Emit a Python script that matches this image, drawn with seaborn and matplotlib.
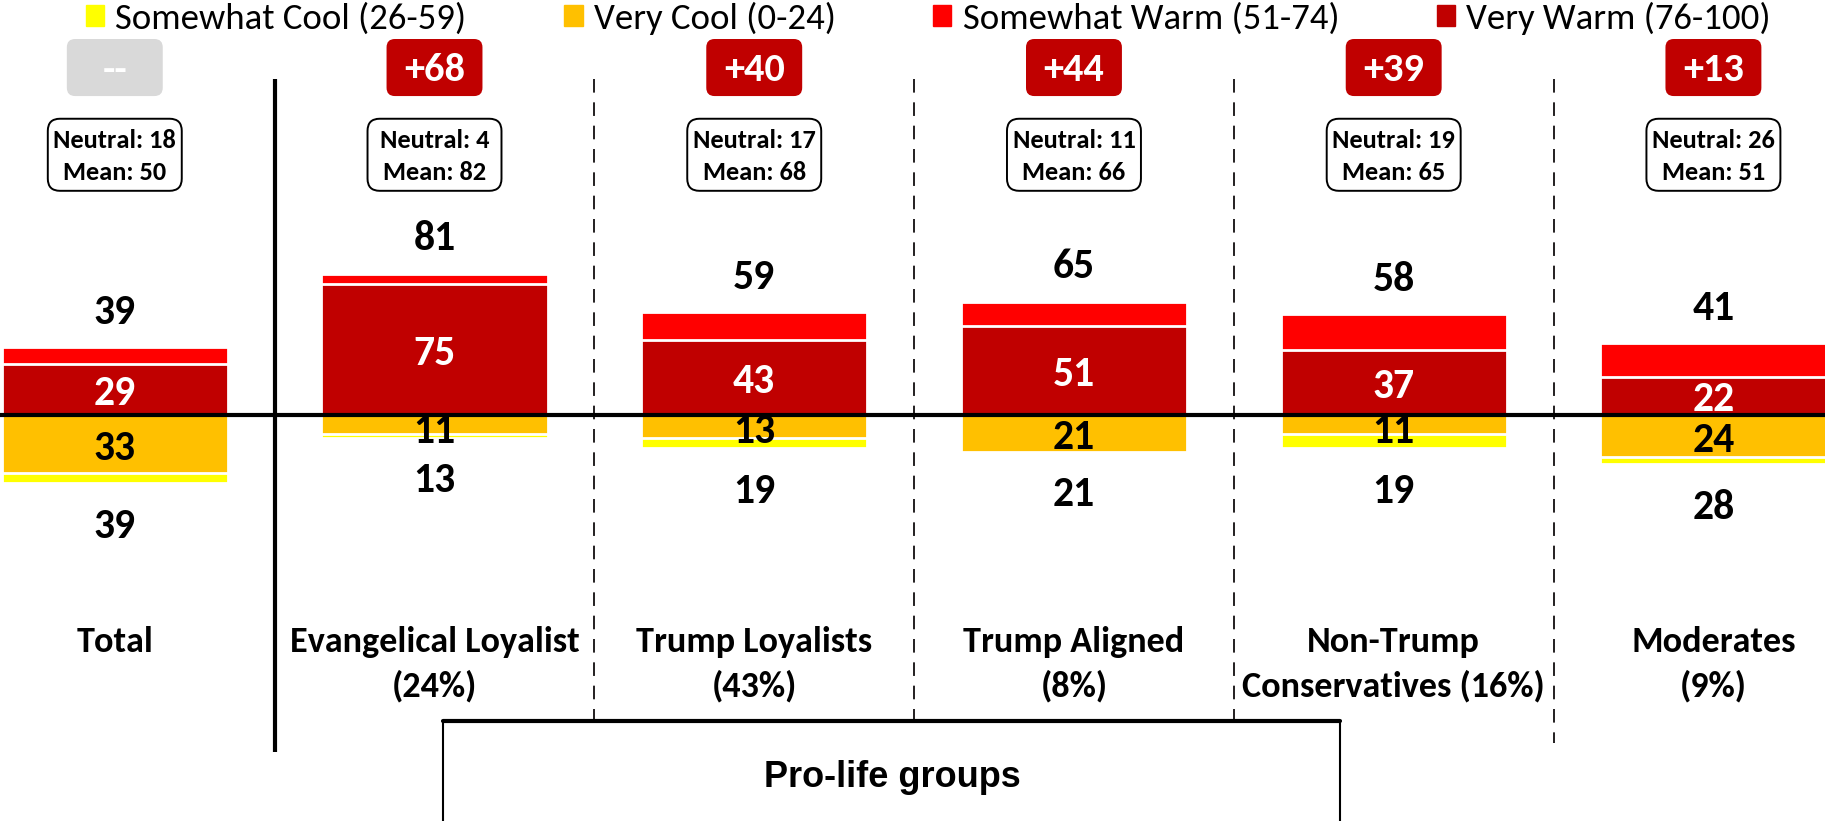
import matplotlib
matplotlib.use("Agg")
import matplotlib.pyplot as plt
from matplotlib.patches import Patch, Rectangle, FancyBboxPatch
from matplotlib import font_manager
import seaborn as sns

groups = ["Total", "Evangelical Loyalist\n(24%)", "Trump Loyalists\n(43%)",
          "Trump Aligned\n(8%)", "Non-Trump\nConservatives (16%)", "Moderates\n(9%)"]
very_warm = [29, 75, 43, 51, 37, 22]
somewhat_warm = [10, 6, 16, 14, 21, 19]
very_cool = [33, 11, 13, 21, 11, 24]
somewhat_cool = [6, 2, 6, 0, 8, 4]
net_labels = ["--", "+68", "+40", "+44", "+39", "+13"]
neutral = [18, 4, 17, 11, 19, 26]
mean_score = [50, 82, 68, 66, 65, 51]

C_VW, C_SW, C_VC, C_SC = "#C00000", "#FF0000", "#FFC000", "#FFFF00"

sns.set_style("white")
names = {f.name for f in font_manager.fontManager.ttflist}
def pick(cands):
    for c in cands:
        if c in names:
            return c
    return "DejaVu Sans"
main_font = pick(["Carlito", "Liberation Sans Narrow", "Archivo Narrow"])
arial = pick(["Liberation Sans", "Arimo"])
plt.rcParams["font.family"] = [main_font, "DejaVu Sans"]
plt.rcParams["text.color"] = "black"

fig = plt.figure(figsize=(18.25, 8.21), dpi=100)
ax = fig.add_axes([0, 0, 1, 1])

warm_total = [a + b for a, b in zip(very_warm, somewhat_warm)]
cool_total = [a + b for a, b in zip(very_cool, somewhat_cool)]
idx = list(range(len(groups)))

bw = 0.708
kw = dict(width=bw, edgecolor="white", linewidth=2, ax=ax, saturation=1)
sns.barplot(x=idx, y=warm_total, color=C_SW, **kw)
sns.barplot(x=idx, y=very_warm, color=C_VW, **kw)
sns.barplot(x=idx, y=[-v for v in cool_total], color=C_SC, **kw)
sns.barplot(x=idx, y=[-v for v in very_cool], color=C_VC, **kw)

ax.set_xlim(-0.359, 5.349)
ax.set_ylim(-232.7, 237.8)
ax.axis("off")

ax.axhline(0, color="black", lw=3, zorder=5)

# px -> data helpers for the decorations (x: 319.75 px/unit, y: 1.745 px/unit)
aspect = 319.75 / 1.745

num_fs = 30
cap = 7.7  # half cap height of the numbers, in y units
for i in idx:
    ax.text(i, warm_total[i] + 21 - cap, str(warm_total[i]), ha="center",
            va="baseline", fontsize=num_fs, fontweight="bold")
    ax.text(i, -cool_total[i] - 23.7 - cap, str(cool_total[i]), ha="center",
            va="baseline", fontsize=num_fs, fontweight="bold")
    ax.text(i, very_warm[i] / 2 - 1 - cap, str(very_warm[i]), ha="center",
            va="baseline", fontsize=num_fs, fontweight="bold", color="white", zorder=6)
    ax.text(i, -max(very_cool[i] / 2 + 1.5, 8.5) - cap, str(very_cool[i]),
            ha="center", va="baseline", fontsize=num_fs, fontweight="bold", zorder=6)

    # net score badge
    box_c = "#D9D9D9" if net_labels[i] == "--" else C_VW
    bwid, bh = 0.300, 32.7
    ax.add_patch(FancyBboxPatch((i - bwid / 2, 199.1 - bh / 2), bwid, bh,
                                boxstyle="round,pad=0,rounding_size=0.026",
                                mutation_aspect=aspect, fc=box_c, ec="none", zorder=4))
    ax.text(i, 191.6, net_labels[i], ha="center", va="baseline", fontsize=29,
            fontweight="bold", color="white", zorder=5)

    # neutral / mean box
    nw, nh = 0.419, 41.3
    ax.add_patch(FancyBboxPatch((i - nw / 2, 149.1 - nh / 2), nw, nh,
                                boxstyle="round,pad=0,rounding_size=0.038",
                                mutation_aspect=aspect, fc="white", ec="black",
                                lw=1.4, zorder=4))
    ax.text(i, 152.9, f"Neutral: {neutral[i]}", ha="center", va="baseline",
            fontsize=19, fontweight="bold", zorder=5)
    ax.text(i, 134.7, f"Mean: {mean_score[i]}", ha="center", va="baseline",
            fontsize=19, fontweight="bold", zorder=5)

    # group labels
    for k, line in enumerate(groups[i].split("\n")):
        ax.text(i, -135.8 - 25.8 * k, line, ha="center", va="baseline",
                fontsize=26, fontweight="bold")

# separators
ax.plot([0.5, 0.5], [192.5, -193], color="black", lw=3, solid_capstyle="butt")
for xs, yb in [(1.5, -175.4), (2.5, -175.4), (3.5, -175.4), (4.5, -188)]:
    ax.plot([xs, xs], [192.5, yb], color="#231F20", lw=1.4, ls=(0, (7, 5)))

ax.add_patch(Rectangle((1.026, -260), 3.832 - 1.026, 260 - 175.4, fc="white",
                       ec="black", lw=1.5, zorder=7, clip_on=False))
ax.plot([1.026, 3.832], [-175.4, -175.4], color="black", lw=3, zorder=8)
ax.text(2.432, -213.2, "Pro-life groups", ha="center", va="baseline", fontsize=26,
        fontweight="bold", family=arial, zorder=9)

handles = [Patch(color=C_SC, label="Somewhat Cool (26-59)"),
           Patch(color=C_VC, label="Very Cool (0-24)"),
           Patch(color=C_SW, label="Somewhat Warm (51-74)"),
           Patch(color=C_VW, label="Very Warm (76-100)")]
ax.legend(handles=handles, ncol=4, loc="center", bbox_to_anchor=(0.5088, 0.978),
          frameon=False, fontsize=26.5, handlelength=0.49, handleheight=0.49,
          handletextpad=0.3, columnspacing=2.66, borderaxespad=0)

fig.savefig("out.png", dpi=100)
